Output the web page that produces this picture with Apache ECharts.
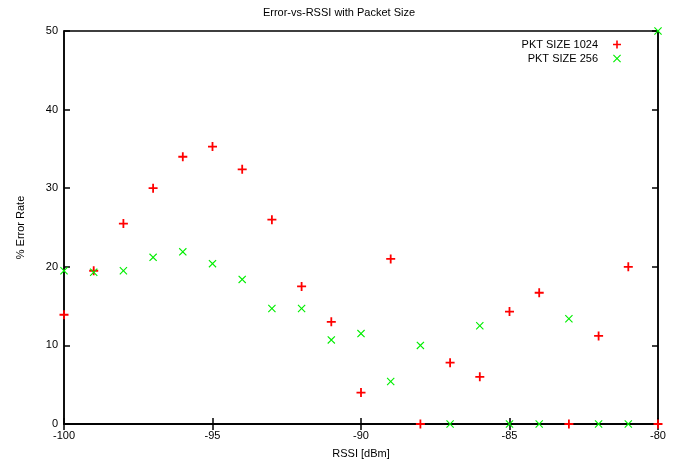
<!DOCTYPE html>
<html><head><meta charset="utf-8">
<script src="https://cdn.jsdelivr.net/npm/echarts@6/dist/echarts.min.js"></script>
<style>html,body{margin:0;padding:0;background:#fff}#c{width:678px;height:468px}</style>
</head><body><div id="c"></div>
<script>
const rssi = [-100,-99,-98,-97,-96,-95,-94,-93,-92,-91,-90,-89,-88,-87,-86,-85,-84,-83,-82,-81,-80];
const pkt1024 = [13.9,19.5,25.5,30,34,35.3,32.4,26,17.5,13,4,21,0,7.8,6,14.3,16.7,0,11.2,20,0];
const pkt256 = [19.5,19.3,19.5,21.2,21.9,20.4,18.4,14.7,14.7,10.7,11.5,5.4,10,0,12.5,0,0,13.4,0,0,50];
const xTicks = [-100,-95,-90,-85,-80];
const yTicks = [0,10,20,30,40,50];
const names = ['PKT SIZE 1024','PKT SIZE 256'];

const plus = 'path://M4,0H6V4H10V6H6V10H4V6H0V4H4Z';
const cross = 'path://M0,1L1,0L5,4L9,0L10,1L6,5L10,9L9,10L5,6L1,10L0,9L4,5Z';
const font = 'Liberation Sans';
const chart = echarts.init(document.getElementById('c'));
const axisCommon = {
  axisLine:{show:true,lineStyle:{color:'#000',width:1.5}},
  axisTick:{show:true,inside:true,length:6,lineStyle:{color:'#000',width:1.5}},
  splitLine:{show:false}
};
chart.setOption({
  animation:false,
  title:{text:'Error-vs-RSSI with Packet Size',left:'center',top:2,
    textStyle:{fontFamily:font,fontSize:11,fontWeight:'normal',color:'#000'}},
  legend:{orient:'vertical',right:52,top:34,align:'right',itemGap:3,itemWidth:8,itemHeight:8,
    textStyle:{fontFamily:font,fontSize:11,color:'#000',padding:[0,10,0,0]},
    data:[{name:names[0],icon:plus},{name:names[1],icon:cross}]},
  grid:{left:64,right:20,top:31,bottom:44,show:true,borderColor:'#000',borderWidth:1.5},
  xAxis:[
    Object.assign({type:'value',min:xTicks[0],max:xTicks[xTicks.length-1],interval:5,
      name:'RSSI [dBm]',nameLocation:'middle',nameGap:24,
      nameTextStyle:{fontFamily:font,fontSize:11,color:'#000'},
      axisLabel:{fontFamily:font,fontSize:11,color:'#000',margin:6}},axisCommon),
    Object.assign({type:'value',position:'top',min:-100,max:-80,interval:5,axisLabel:{show:false}},axisCommon)
  ],
  yAxis:[
    Object.assign({type:'value',min:yTicks[0],max:yTicks[yTicks.length-1],interval:10,
      name:'% Error Rate',nameLocation:'middle',nameGap:38,
      nameTextStyle:{fontFamily:font,fontSize:11,color:'#000'},
      axisLabel:{fontFamily:font,fontSize:11,color:'#000',margin:6}},axisCommon),
    Object.assign({type:'value',position:'right',min:0,max:50,interval:10,axisLabel:{show:false}},axisCommon)
  ],
  series:[
    {name:names[0],type:'scatter',symbol:plus,symbolSize:9,
      itemStyle:{color:'#ff0000',opacity:1},
      data:rssi.map((x,i)=>[x,pkt1024[i]]),z:3},
    {name:names[1],type:'scatter',symbol:cross,symbolSize:8,
      itemStyle:{color:'#00ee00',opacity:1},
      data:rssi.map((x,i)=>[x,pkt256[i]]),z:4}
  ]
});
</script></body></html>
